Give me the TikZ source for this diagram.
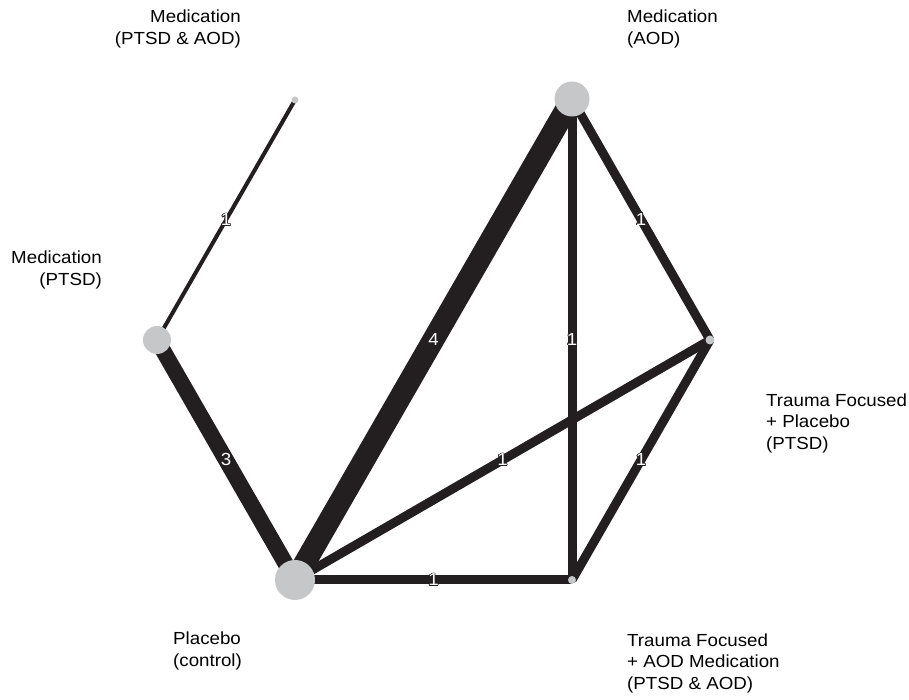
\documentclass[tikz,border=0pt]{standalone}
\usepackage{fontspec}
\setmainfont[FakeStretch=1.07]{Liberation Sans}
\usepackage{contour}
\contourlength{0.6pt}
\definecolor{ink}{HTML}{231F20}
\definecolor{dot}{HTML}{C6C7C9}
\begin{document}
\begin{tikzpicture}[x=1pt, y=1pt,
    edge/.style={draw=ink, line cap=butt},
    trt/.style={fill=dot},
    num/.style={text=white, font=\fontsize{17.5}{20}\selectfont, inner sep=0pt},
    lab/.style={font=\fontsize{17.5}{21.5}\selectfont, inner sep=0pt}]
    \useasboundingbox (0,0) rectangle (909,700);

    % treatments
    \coordinate (mpa) at (295,600);
    \coordinate (maod) at (572,601);
    \coordinate (mptsd) at (157,360);
    \coordinate (tfp) at (710,360);
    \coordinate (plc) at (295,120);
    \coordinate (tfa) at (572,120);

    % comparisons
    \draw[edge, line width=4pt] (mpa) -- (mptsd) node[num, midway] {\contour{ink}{1}};
    \draw[edge, line width=16pt] (mptsd) -- (plc) node[num, midway] {\contour{ink}{3}};
    \draw[edge, line width=22pt] (plc) -- (maod) node[num, midway] {\contour{ink}{4}};
    \draw[edge, line width=9pt] (maod) -- (tfa) node[num, midway] {\contour{ink}{1}};
    \draw[edge, line width=9pt] (maod) -- (tfp) node[num, midway] {\contour{ink}{1}};
    \draw[edge, line width=9pt] (plc) -- (tfp) node[num, midway] {\contour{ink}{1}};
    \draw[edge, line width=9pt] (tfp) -- (tfa) node[num, midway] {\contour{ink}{1}};
    \draw[edge, line width=9pt] (plc) -- (tfa) node[num, midway] {\contour{ink}{1}};

    \fill[trt] (mpa) circle (3.5);
    \fill[trt] (maod) circle (17.5);
    \fill[trt] (mptsd) circle (14);
    \fill[trt] (tfp) circle (4.5);
    \fill[trt] (plc) circle (20);
    \fill[trt] (tfa) circle (4);

    % names
    \node[lab, anchor=east, align=right] (tmpa) at (241,671) {Medication\\(PTSD \& AOD)};
    \node[lab, anchor=west, align=left] (tmaod) at (627,671) {Medication\\(AOD)};
    \node[lab, anchor=east, align=right] (tmptsd) at (102,430) {Medication\\(PTSD)};
    \node[lab, anchor=west, align=left] (ttfp) at (766,277) {Trauma Focused\\+ Placebo\\(PTSD)};
    \node[lab, anchor=west, align=left] (tplc) at (173,49) {Placebo\\(control)};
    \node[lab, anchor=west, align=left] (ttfa) at (627,37) {Trauma Focused\\+ AOD Medication\\(PTSD \& AOD)};
\end{tikzpicture}
\end{document}
